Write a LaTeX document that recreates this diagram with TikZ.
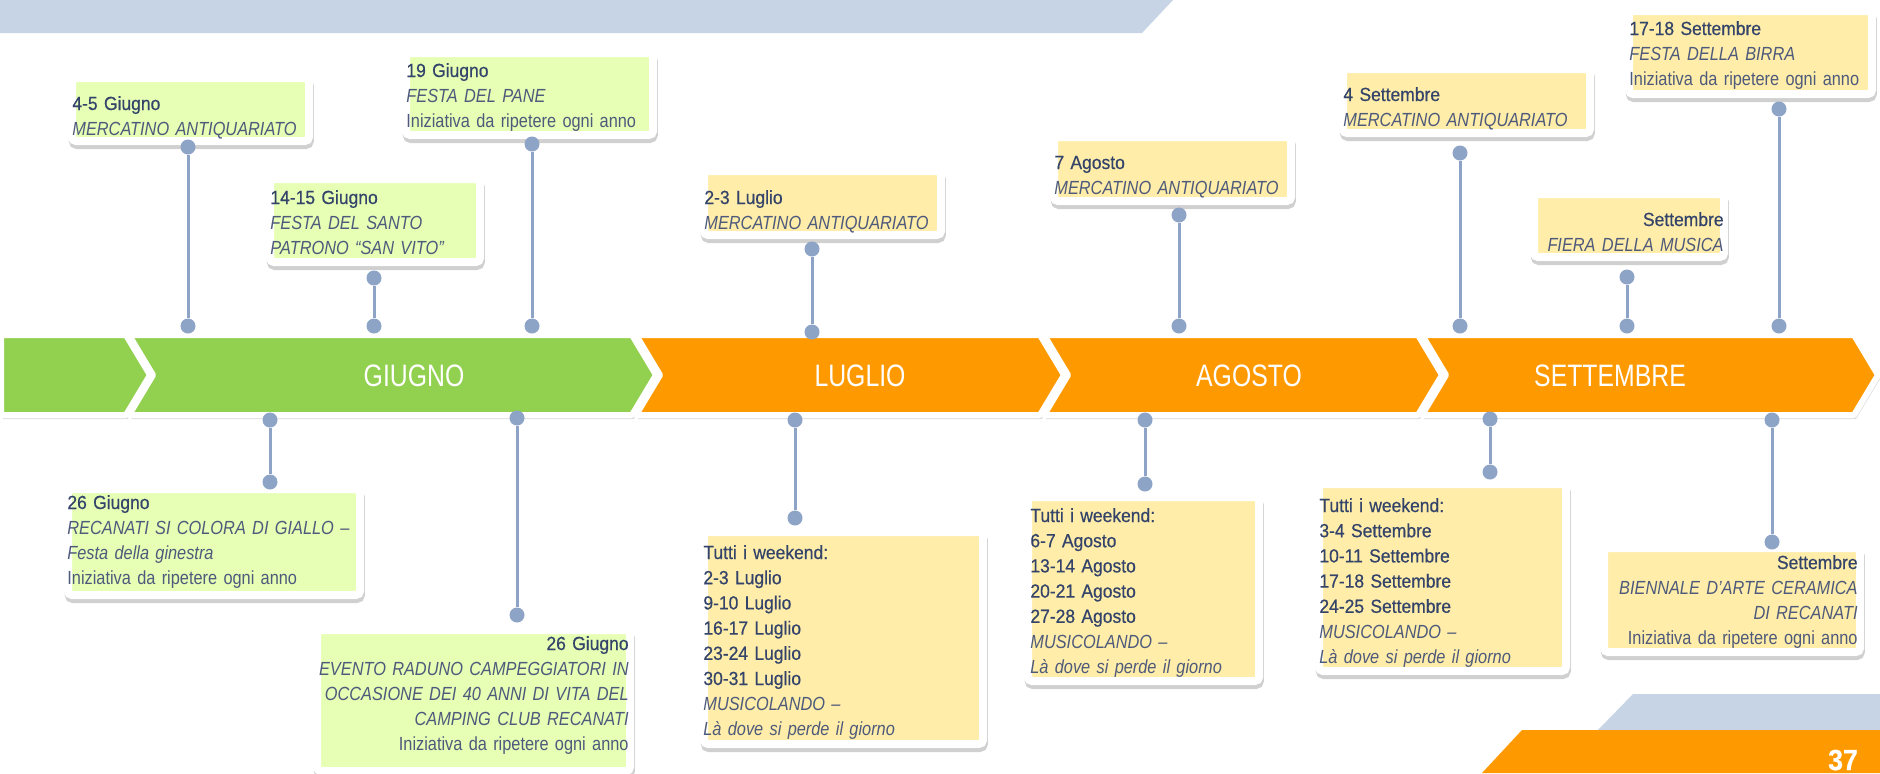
\documentclass[tikz,border=0pt]{standalone}
\usepackage{fontspec}
\setmainfont{Liberation Sans}
\newfontfamily\datefont[FakeStretch=0.92,FakeBold=0.5]{Liberation Sans}
\newfontfamily\descfont[FakeStretch=0.86]{Liberation Sans}
\newfontfamily\monthfont[FakeStretch=0.8]{Liberation Sans}
\usetikzlibrary{shadows,fit}

\definecolor{bandblue}{HTML}{C7D4E6}
\definecolor{june}{HTML}{92D050}
\definecolor{summer}{HTML}{FF9900}
\definecolor{junehl}{HTML}{E6FFB5}
\definecolor{summerhl}{HTML}{FFEDA9}
\definecolor{knobcol}{HTML}{8EA4C7}
\definecolor{datecol}{HTML}{33436A}
\definecolor{desccol}{HTML}{4E5A7B}

\newcommand{\evname}[1]{{\descfont\itshape\color{desccol}#1}}
\newcommand{\evnote}[1]{{\descfont\color{desccol}#1}}

\begin{document}
\begin{tikzpicture}[x=0.5pt, y=-0.5pt,
    chevron/.style={fill=#1, draw=white, line width=3pt, line join=round,
      drop shadow={shadow xshift=1pt, shadow yshift=-2pt, opacity=.25}},
    month/.style={text=white, font={\monthfont\fontsize{15.5}{16}\selectfont}},
    card/.style={fill=#1, draw=white, line width=4pt, rounded corners=2pt, inner sep=2pt,
      drop shadow={shadow xshift=0.4pt, shadow yshift=-2pt, opacity=.3, draw=black!60}},
    evtext/.style={inner sep=0pt, text width=175pt, align=left, anchor=base west, text=datecol,
      font={\datefont\fontsize{9.5}{12.6}\selectfont}},
    evright/.style={evtext, align=right, anchor=base east},
    knob/.style={circle, fill=knobcol, inner sep=0pt, minimum size=7.5pt},
    stem/.style={draw=knobcol, line width=1.5pt}]
  \useasboundingbox (0,0) rectangle (1880,773);
  \fill[white] (0,0) rectangle (1880,773);

  % page bands
  \fill[bandblue] (0,0) -- (1173,0) -- (1142,33) -- (0,33) -- cycle;
  \fill[bandblue] (1633,694) -- (1880,694) -- (1880,731) -- (1597,731) -- cycle;
  \fill[summer] (1522,730) -- (1880,730) -- (1880,773) -- (1482,773) -- cycle;
  \node[text=white, font={\datefont\bfseries\fontsize{14.5}{14.5}\selectfont}, anchor=base] (page) at (1843,770) {37};

  % timeline
  \path[chevron=june] (1,335) -- (126,335) -- (150,375) -- (126,415) -- (1,415) -- cycle;
  \path[chevron=june] (129,335) -- (632,335) -- (656,375) -- (632,415) -- (129,415) -- (153,375) -- cycle;
  \path[chevron=summer] (636,335) -- (1040,335) -- (1064,375) -- (1040,415) -- (636,415) -- (660,375) -- cycle;
  \path[chevron=summer] (1044,335) -- (1418,335) -- (1442,375) -- (1418,415) -- (1044,415) -- (1068,375) -- cycle;
  \path[chevron=summer] (1422,335) -- (1854,335) -- (1878,375) -- (1854,415) -- (1422,415) -- (1446,375) -- cycle;
  \node[month] (giugno) at (414,376) {GIUGNO};
  \node[month] (luglio) at (860,376) {LUGLIO};
  \node[month] (agosto) at (1249,376) {AGOSTO};
  \node[month] (settembre) at (1610,376) {SETTEMBRE};

  % events above the timeline
  \node[card=junehl, fit={(76,82) (305,137)}] (c1) {};
  \node[evtext] (t1) at (72,110) {4-5 Giugno\\ \evname{MERCATINO ANTIQUARIATO}};
  \node[card=junehl, fit={(410,57) (649,131)}] (c2) {};
  \node[evtext] (t2) at (406,77) {19 Giugno\\ \evname{FESTA DEL PANE}\\ \evnote{Iniziativa da ripetere ogni anno}};
  \node[card=junehl, fit={(274,183) (476,258)}] (c3) {};
  \node[evtext] (t3) at (270,204) {14-15 Giugno\\ \evname{FESTA DEL SANTO}\\ \evname{PATRONO “SAN VITO”}};
  \node[card=summerhl, fit={(708,175) (937,231)}] (c4) {};
  \node[evtext] (t4) at (704,204) {2-3 Luglio\\ \evname{MERCATINO ANTIQUARIATO}};
  \node[card=summerhl, fit={(1058,141) (1287,197)}] (c5) {};
  \node[evtext] (t5) at (1054,169) {7 Agosto\\ \evname{MERCATINO ANTIQUARIATO}};
  \node[card=summerhl, fit={(1347,73) (1586,129)}] (c6) {};
  \node[evtext] (t6) at (1343,101) {4 Settembre\\ \evname{MERCATINO ANTIQUARIATO}};
  \node[card=summerhl, fit={(1633,15) (1868,90)}] (c7) {};
  \node[evtext] (t7) at (1629,35) {17-18 Settembre\\ \evname{FESTA DELLA BIRRA}\\ \evnote{Iniziativa da ripetere ogni anno}};
  \node[card=summerhl, fit={(1538,198) (1720,253)}] (c8) {};
  \node[evright] (t8) at (1724,226) {Settembre\\ \evname{FIERA DELLA MUSICA}};

  % events below the timeline
  \node[card=junehl, fit={(72,493) (356,591)}] (c9) {};
  \node[evtext] (t9) at (67,509) {26 Giugno\\ \evname{RECANATI SI COLORA DI GIALLO –}\\ \evname{Festa della ginestra}\\ \evnote{Iniziativa da ripetere ogni anno}};
  \node[card=junehl, fit={(321,634) (626,767)}] (c10) {};
  \node[evright] (t10) at (629,650) {26 Giugno\\ \evname{EVENTO RADUNO CAMPEGGIATORI IN}\\ \evname{OCCASIONE DEI 40 ANNI DI VITA DEL}\\ \evname{CAMPING CLUB RECANATI}\\ \evnote{Iniziativa da ripetere ogni anno}};
  \node[card=summerhl, fit={(708,536) (979,740)}] (c11) {};
  \node[evtext] (t11) at (703,559) {Tutti i weekend:\\ 2-3 Luglio\\ 9-10 Luglio\\ 16-17 Luglio\\ 23-24 Luglio\\ 30-31 Luglio\\ \evname{MUSICOLANDO –}\\ \evname{Là dove si perde il giorno}};
  \node[card=summerhl, fit={(1032,501) (1255,677)}] (c12) {};
  \node[evtext] (t12) at (1030,522) {Tutti i weekend:\\ 6-7 Agosto\\ 13-14 Agosto\\ 20-21 Agosto\\ 27-28 Agosto\\ \evname{MUSICOLANDO –}\\ \evname{Là dove si perde il giorno}};
  \node[card=summerhl, fit={(1323,488) (1562,667)}] (c13) {};
  \node[evtext] (t13) at (1319,512) {Tutti i weekend:\\ 3-4 Settembre\\ 10-11 Settembre\\ 17-18 Settembre\\ 24-25 Settembre\\ \evname{MUSICOLANDO –}\\ \evname{Là dove si perde il giorno}};
  \node[card=summerhl, fit={(1608,552) (1856,648)}] (c14) {};
  \node[evright] (t14) at (1858,569) {Settembre\\ \evname{BIENNALE D’ARTE CERAMICA}\\ \evname{DI RECANATI}\\ \evnote{Iniziativa da ripetere ogni anno}};

  % pins from the cards to the timeline
  \node[knob] (k1a) at (188,147) {};  \node[knob] (k1b) at (188,326) {};
  \node[knob] (k2a) at (532,144) {};  \node[knob] (k2b) at (532,326) {};
  \node[knob] (k3a) at (374,278) {};  \node[knob] (k3b) at (374,326) {};
  \node[knob] (k4a) at (812,249) {};  \node[knob] (k4b) at (812,332) {};
  \node[knob] (k5a) at (1179,215) {}; \node[knob] (k5b) at (1179,326) {};
  \node[knob] (k6a) at (1460,153) {}; \node[knob] (k6b) at (1460,326) {};
  \node[knob] (k7a) at (1779,109) {}; \node[knob] (k7b) at (1779,326) {};
  \node[knob] (k8a) at (1627,277) {}; \node[knob] (k8b) at (1627,326) {};
  \node[knob] (k9a) at (270,420) {};  \node[knob] (k9b) at (270,482) {};
  \node[knob] (k10a) at (517,418) {}; \node[knob] (k10b) at (517,615) {};
  \node[knob] (k11a) at (795,420) {}; \node[knob] (k11b) at (795,518) {};
  \node[knob] (k12a) at (1145,420) {};\node[knob] (k12b) at (1145,484) {};
  \node[knob] (k13a) at (1490,419) {};\node[knob] (k13b) at (1490,472) {};
  \node[knob] (k14a) at (1772,420) {};\node[knob] (k14b) at (1772,542) {};
  \draw[stem] (k1a) -- (k1b);
  \draw[stem] (k2a) -- (k2b);
  \draw[stem] (k3a) -- (k3b);
  \draw[stem] (k4a) -- (k4b);
  \draw[stem] (k5a) -- (k5b);
  \draw[stem] (k6a) -- (k6b);
  \draw[stem] (k7a) -- (k7b);
  \draw[stem] (k8a) -- (k8b);
  \draw[stem] (k9a) -- (k9b);
  \draw[stem] (k10a) -- (k10b);
  \draw[stem] (k11a) -- (k11b);
  \draw[stem] (k12a) -- (k12b);
  \draw[stem] (k13a) -- (k13b);
  \draw[stem] (k14a) -- (k14b);
\end{tikzpicture}
\end{document}
